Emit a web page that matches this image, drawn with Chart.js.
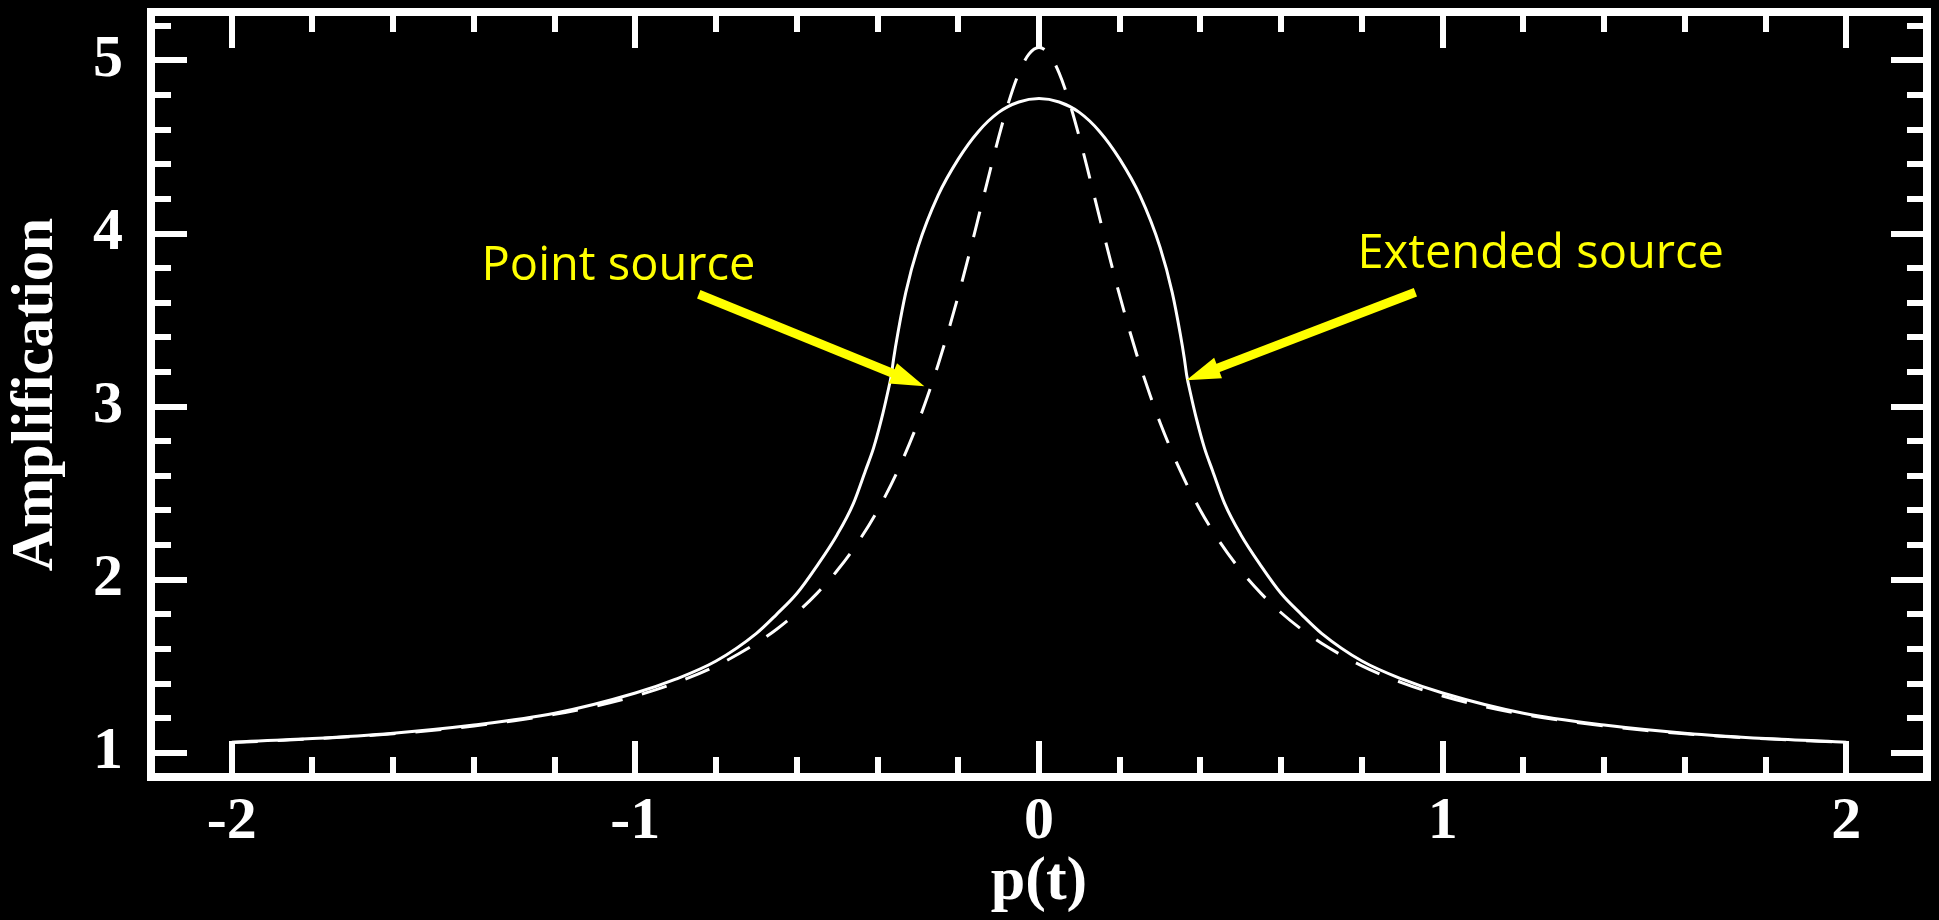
<!DOCTYPE html>
<html>
<head>
<meta charset="utf-8">
<title>Amplification vs p(t)</title>
<script src="https://cdn.jsdelivr.net/npm/chart.js@4.4.0/dist/chart.umd.min.js"></script>
<style>
  html, body { margin: 0; padding: 0; background: #000; }
  #wrap { width: 1939px; height: 920px; }
</style>
</head>
<body>
<div id="wrap"><canvas id="lens"></canvas></div>
<script>
// extended source light curve
var extP = [-2.0, -1.8, -1.6, -1.4, -1.2, -1.0, -0.9, -0.8, -0.7, -0.65, -0.6, -0.55, -0.5, -0.46,
    -0.43, -0.41, -0.39, -0.375, -0.366, -0.36, -0.35, -0.33, -0.3, -0.25, -0.2, -0.15, -0.1, -0.05,
    0,
    0.05, 0.1, 0.15, 0.2, 0.25, 0.3, 0.33, 0.35, 0.36, 0.366, 0.375, 0.39, 0.41, 0.43,
    0.46, 0.5, 0.55, 0.6, 0.65, 0.7, 0.8, 0.9, 1.0, 1.2, 1.4, 1.6, 1.8, 2.0];
var extA = [1.061, 1.082, 1.113, 1.16, 1.228, 1.345, 1.425, 1.53, 1.69, 1.80, 1.92, 2.08, 2.26, 2.44,
    2.63, 2.76, 2.93, 3.08, 3.18, 3.28, 3.42, 3.66, 3.92, 4.22, 4.43, 4.59, 4.70, 4.76,
    4.78,
    4.76, 4.70, 4.59, 4.43, 4.22, 3.92, 3.66, 3.42, 3.28, 3.18, 3.08, 2.93, 2.76, 2.63,
    2.44, 2.26, 2.08, 1.92, 1.80, 1.69, 1.53, 1.425, 1.345, 1.228, 1.16, 1.113, 1.082, 1.061];

// point source light curve
var ptP = [-2.0, -1.9, -1.8, -1.7, -1.6, -1.5, -1.4, -1.3, -1.2, -1.1, -1.0, -0.9, -0.8, -0.7, -0.65, -0.6,
    -0.55, -0.5, -0.45, -0.4, -0.35, -0.3, -0.275, -0.25, -0.225, -0.2, -0.175, -0.15, -0.125, -0.1,
    -0.075, -0.05, -0.025,
    0,
    0.025, 0.05, 0.075, 0.1, 0.125, 0.15, 0.175, 0.2, 0.225, 0.25, 0.275, 0.3, 0.35, 0.4, 0.45, 0.5,
    0.55, 0.6, 0.65, 0.7, 0.8, 0.9, 1.0, 1.1, 1.2, 1.3, 1.4, 1.5, 1.6, 1.7, 1.8, 1.9, 2.0];
var ptA = [1.06, 1.069, 1.081, 1.094, 1.11, 1.13, 1.155, 1.185, 1.222, 1.269, 1.328, 1.404, 1.502, 1.633, 1.714, 1.809,
    1.921, 2.053, 2.211, 2.40, 2.63, 2.907, 3.067, 3.242, 3.434, 3.641, 3.862, 4.093, 4.328, 4.556,
    4.761, 4.927, 5.037,
    5.075,
    5.037, 4.927, 4.761, 4.556, 4.328, 4.093, 3.862, 3.641, 3.434, 3.242, 3.067, 2.907, 2.63, 2.40, 2.211, 2.053,
    1.921, 1.809, 1.714, 1.633, 1.502, 1.404, 1.328, 1.269, 1.222, 1.185, 1.155, 1.13, 1.11, 1.094, 1.081, 1.069, 1.06];

// axis labels
var xTickValues = [-2, -1, 0, 1, 2];
var yTickValues = [1, 2, 3, 4, 5];
var minorStep = 0.2;

// annotations, in data units
var noteText = ['Point source', 'Extended source'];
var noteAt = [[-1.381, 3.73], [0.789, 3.80]];
var arrowFrom = [[-0.843, 3.649], [0.9325, 3.661]];
var arrowTo = [[-0.284, 3.118], [0.365, 3.153]];

function toXY(px, py) {
    return px.map(function(p, i) { return { x: p, y: py[i] }; });
}

var labelFont = { family: 'Liberation Serif', weight: 'bold', size: 60 };

function drawArrow(ctx, x0, y0, x1, y1) {
    var ang = Math.atan2(y1 - y0, x1 - x0);
    var head = 34, half = 11;
    var c = Math.cos(ang), s = Math.sin(ang);
    var bx = x1 - head * c, by = y1 - head * s;
    ctx.lineWidth = 9;
    ctx.beginPath();
    ctx.moveTo(x0, y0);
    ctx.lineTo(bx + 2 * c, by + 2 * s);
    ctx.stroke();
    ctx.beginPath();
    ctx.moveTo(x1, y1);
    ctx.lineTo(bx + half * s, by - half * c);
    ctx.lineTo(bx - half * s, by + half * c);
    ctx.closePath();
    ctx.fill();
}

// box frame, inward ticks and the yellow notes
var framePlugin = {
    id: 'framePlugin',
    afterDraw: function(chart) {
        var ctx = chart.ctx, a = chart.chartArea;
        var xs = chart.scales.x, ys = chart.scales.y;
        ctx.save();
        ctx.strokeStyle = '#fff';
        ctx.lineCap = 'butt';
        ctx.lineWidth = 6;

        var k, v, px, len;
        for (k = Math.ceil(xs.min / minorStep - 1e-6); k * minorStep <= xs.max + 1e-6; k++) {
            v = k * minorStep;
            px = Math.round(xs.getPixelForValue(v));
            if (px - a.left < 4 || a.right - px < 4) continue;
            len = Math.abs(v - Math.round(v)) < 1e-6 ? 36 : 20;
            ctx.beginPath();
            ctx.moveTo(px, a.bottom); ctx.lineTo(px, a.bottom - len);
            ctx.moveTo(px, a.top); ctx.lineTo(px, a.top + len);
            ctx.stroke();
        }
        for (k = Math.ceil(ys.min / minorStep - 1e-6); k * minorStep <= ys.max + 1e-6; k++) {
            v = k * minorStep;
            px = Math.round(ys.getPixelForValue(v));
            if (px - a.top < 4 || a.bottom - px < 4) continue;
            len = Math.abs(v - Math.round(v)) < 1e-6 ? 36 : 20;
            ctx.beginPath();
            ctx.moveTo(a.left, px); ctx.lineTo(a.left + len, px);
            ctx.moveTo(a.right, px); ctx.lineTo(a.right - len, px);
            ctx.stroke();
        }

        ctx.lineWidth = 8;
        ctx.lineJoin = 'miter';
        ctx.strokeRect(a.left, a.top, a.right - a.left, a.bottom - a.top);

        ctx.fillStyle = '#ffff00';
        ctx.strokeStyle = '#ffff00';
        ctx.font = '47px "Open Sans"';
        ctx.textBaseline = 'alphabetic';
        ctx.textAlign = 'left';
        for (k = 0; k < noteText.length; k++) {
            ctx.fillText(noteText[k], xs.getPixelForValue(noteAt[k][0]), ys.getPixelForValue(noteAt[k][1]));
            drawArrow(ctx,
                xs.getPixelForValue(arrowFrom[k][0]), ys.getPixelForValue(arrowFrom[k][1]),
                xs.getPixelForValue(arrowTo[k][0]), ys.getPixelForValue(arrowTo[k][1]));
        }
        ctx.restore();
    }
};

new Chart(document.getElementById('lens'), {
    type: 'line',
    data: {
        datasets: [{
            label: 'Extended source',
            data: toXY(extP, extA),
            borderColor: '#fff',
            borderWidth: 3,
            pointRadius: 0,
            cubicInterpolationMode: 'monotone',
            fill: false
        }, {
            label: 'Point source',
            data: toXY(ptP, ptA),
            borderColor: '#fff',
            borderWidth: 3,
            borderDash: [26, 20],
            pointRadius: 0,
            cubicInterpolationMode: 'monotone',
            fill: false
        }]
    },
    options: {
        responsive: true,
        maintainAspectRatio: false,
        animation: false,
        layout: { padding: { top: 12, right: 12, left: 0, bottom: 0 } },
        plugins: {
            legend: { display: false },
            tooltip: { enabled: false }
        },
        scales: {
            x: {
                type: 'linear',
                position: 'bottom',
                min: -2.2,
                max: 2.2,
                afterBuildTicks: function(s) {
                    s.ticks = xTickValues.map(function(v) { return { value: v }; });
                },
                afterFit: function(s) {
                    s.height = 143;
                    s.paddingLeft = 0;
                    s.paddingRight = 0;
                },
                ticks: { color: '#fff', font: labelFont, padding: 9, maxRotation: 0, autoSkip: false },
                grid: { display: false, drawTicks: false },
                border: { display: false },
                title: { display: true, text: 'p(t)', color: '#fff', font: { family: 'Liberation Serif', weight: 'bold', size: 62 }, padding: 0 }
            },
            y: {
                type: 'linear',
                position: 'left',
                min: 0.86,
                max: 5.28,
                afterBuildTicks: function(s) {
                    s.ticks = yTickValues.map(function(v) { return { value: v }; });
                },
                afterFit: function(s) {
                    s.width = 151;
                    s.paddingTop = 0;
                    s.paddingBottom = 0;
                },
                ticks: { color: '#fff', font: labelFont, padding: 28 },
                grid: { display: false, drawTicks: false },
                border: { display: false },
                title: { display: true, text: 'Amplification', color: '#fff', font: labelFont, padding: 0 }
            }
        }
    },
    plugins: [framePlugin]
});
</script>
</body>
</html>
